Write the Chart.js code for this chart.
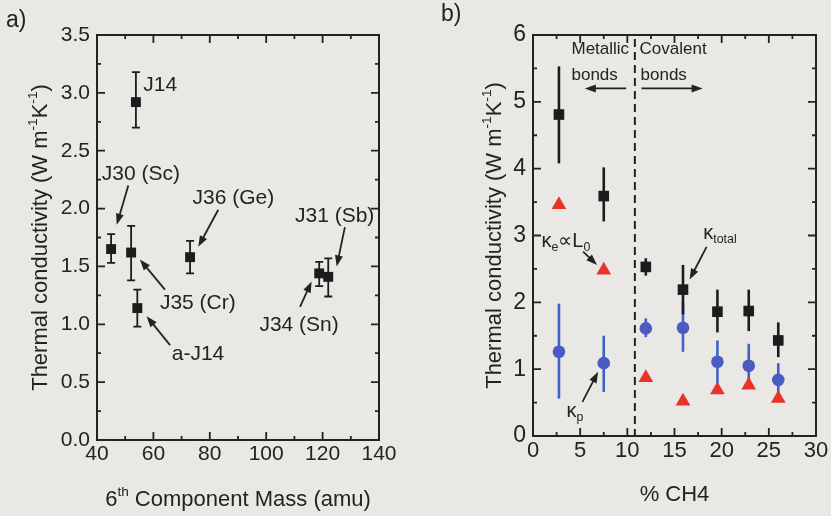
<!DOCTYPE html>
<html><head><meta charset="utf-8">
<script src="https://cdn.jsdelivr.net/npm/chart.js@4"></script>
<style>
html,body{margin:0;padding:0;background:#e9e8e4;}
#wrap{position:relative;width:831px;height:516px;overflow:hidden;background:#e9e8e4;}
canvas{position:absolute;top:0;}
</style></head><body>
<div id="wrap">
<canvas id="ca" width="415" height="516" style="left:0"></canvas>
<canvas id="cb" width="416" height="516" style="left:415px"></canvas>
</div>
<script>
// ---------- Panel a data ----------
const sampleA = ['J14', 'J30 (Sc)', 'J35 (Cr)', 'a-J14', 'J36 (Ge)', 'J34 (Sn)', 'J31 (Sb)'];
const massA   = [53.8, 45.0, 52.1, 54.3, 73.0, 118.8, 122.0];
const kA      = [2.92, 1.65, 1.62, 1.14, 1.58, 1.44, 1.41];
const kALow   = [2.70, 1.53, 1.38, 0.98, 1.44, 1.33, 1.24];
const kAHigh  = [3.18, 1.78, 1.85, 1.30, 1.72, 1.54, 1.57];
const xTicksA = [40, 60, 80, 100, 120, 140];
const yTicksA = [0, 0.5, 1, 1.5, 2, 2.5, 3, 3.5];

// ---------- Panel b data ----------
const ch4        = [2.75, 7.5, 11.96, 15.9, 19.55, 22.87, 26.0];
const kTotal     = [4.81, 3.59, 2.53, 2.19, 1.86, 1.87, 1.43];
const kTotalLow  = [4.08, 3.21, 2.40, 1.82, 1.55, 1.57, 1.18];
const kTotalHigh = [5.53, 4.02, 2.66, 2.56, 2.19, 2.19, 1.70];
const kP         = [1.26, 1.09, 1.61, 1.62, 1.11, 1.05, 0.84];
const kPLow      = [0.56, 0.66, 1.48, 1.26, 0.79, 0.79, 0.62];
const kPHigh     = [1.98, 1.50, 1.76, 2.01, 1.43, 1.38, 1.09];
const kE         = [3.46, 2.48, 0.87, 0.52, 0.69, 0.76, 0.56];
const boundaryCH4 = 10.8;
const xTicksB = [0, 5, 10, 15, 20, 25, 30];
const yTicksB = [0, 1, 2, 3, 4, 5, 6];

const FAM = '"Liberation Sans", Arial, Helvetica, sans-serif';
const INK = '#232323';

function richParts(ctx, runs, size) {
  return runs.map(([t, m]) => {
    const s = m ? size * 0.62 : size;
    const dy = m === 'sub' ? size * 0.30 : (m === 'sup' ? -size * 0.36 : 0);
    ctx.font = s + 'px ' + FAM;
    return { t, s, dy, w: ctx.measureText(t).width };
  });
}
function drawRich(ctx, runs, x, y, size, align, color) {
  const parts = richParts(ctx, runs, size);
  const total = parts.reduce((a, p) => a + p.w, 0);
  let cx = align === 'center' ? x - total / 2 : x;
  ctx.fillStyle = color || INK; ctx.textBaseline = 'middle'; ctx.textAlign = 'left';
  for (const p of parts) { ctx.font = p.s + 'px ' + FAM; ctx.fillText(p.t, cx, y + p.dy); cx += p.w; }
}
function drawArrow(ctx, x1, y1, x2, y2, color) {
  const a = Math.atan2(y2 - y1, x2 - x1), hl = 11, hw = 4;
  ctx.save();
  ctx.strokeStyle = color; ctx.fillStyle = color; ctx.lineWidth = 1.8;
  ctx.beginPath(); ctx.moveTo(x1, y1); ctx.lineTo(x2 - Math.cos(a) * hl * 0.7, y2 - Math.sin(a) * hl * 0.7); ctx.stroke();
  ctx.beginPath(); ctx.moveTo(x2, y2);
  ctx.lineTo(x2 - hl * Math.cos(a) + hw * Math.sin(a), y2 - hl * Math.sin(a) - hw * Math.cos(a));
  ctx.lineTo(x2 - hl * Math.cos(a) - hw * Math.sin(a), y2 - hl * Math.sin(a) + hw * Math.cos(a));
  ctx.closePath(); ctx.fill();
  ctx.restore();
}
function minors(arr) { const r = []; for (let i = 0; i < arr.length - 1; i++) r.push((arr[i] + arr[i + 1]) / 2); return r; }

const framePlugin = {
  id: 'frame',
  beforeDatasetsDraw(chart, args, opts) {
    const ctx = chart.ctx, xs = chart.scales.x, ys = chart.scales.y, ca = chart.chartArea;
    ctx.save();
    if (opts.dashX !== undefined) {
      const px = xs.getPixelForValue(opts.dashX);
      ctx.strokeStyle = INK; ctx.lineWidth = 2; ctx.setLineDash([8, 5]);
      ctx.beginPath(); ctx.moveTo(px, ca.top + 4); ctx.lineTo(px, ca.bottom); ctx.stroke();
      ctx.setLineDash([]);
    }
    for (const eb of opts.errorBars || []) {
      ctx.strokeStyle = eb.color; ctx.lineWidth = eb.width;
      eb.x.forEach((xv, i) => {
        const px = xs.getPixelForValue(xv), p1 = ys.getPixelForValue(eb.low[i]), p2 = ys.getPixelForValue(eb.high[i]);
        ctx.beginPath(); ctx.moveTo(px, p1); ctx.lineTo(px, p2);
        if (eb.cap) { ctx.moveTo(px - eb.cap, p1); ctx.lineTo(px + eb.cap, p1); ctx.moveTo(px - eb.cap, p2); ctx.lineTo(px + eb.cap, p2); }
        ctx.stroke();
      });
    }
    ctx.restore();
  },
  afterDraw(chart, args, opts) {
    const ctx = chart.ctx, xs = chart.scales.x, ys = chart.scales.y, ca = chart.chartArea;
    ctx.save();
    ctx.strokeStyle = INK; ctx.lineWidth = 2;
    ctx.strokeRect(ca.left, ca.top, ca.right - ca.left, ca.bottom - ca.top);
    ctx.lineWidth = 1.8;
    const tick = (vals, len, isX) => {
      for (const v of vals) {
        if (isX) {
          const p = xs.getPixelForValue(v);
          ctx.beginPath(); ctx.moveTo(p, ca.bottom); ctx.lineTo(p, ca.bottom - len);
          ctx.moveTo(p, ca.top); ctx.lineTo(p, ca.top + len); ctx.stroke();
        } else {
          const p = ys.getPixelForValue(v);
          ctx.beginPath(); ctx.moveTo(ca.left, p); ctx.lineTo(ca.left + len, p);
          ctx.moveTo(ca.right, p); ctx.lineTo(ca.right - len, p); ctx.stroke();
        }
      }
    };
    tick(opts.xTicks, 8, true); tick(minors(opts.xTicks), 4, true);
    tick(opts.yTicks, 8, false); tick(minors(opts.yTicks), 4, false);
    drawRich(ctx, opts.xTitle, (ca.left + ca.right) / 2, opts.xTitleY, opts.titleSize, 'center');
    ctx.save();
    ctx.translate(opts.yTitleX, (ca.top + ca.bottom) / 2);
    ctx.rotate(-Math.PI / 2);
    drawRich(ctx, opts.yTitle, 0, 0, opts.titleSize, 'center');
    ctx.restore();
    drawRich(ctx, [[opts.panel]], opts.panelX, opts.panelY, 23, 'left');
    for (const a of opts.labels || []) {
      drawRich(ctx, a.runs, xs.getPixelForValue(a.x), ys.getPixelForValue(a.y), a.size, 'left');
    }
    for (const r of opts.arrows || []) {
      drawArrow(ctx, xs.getPixelForValue(r[0]), ys.getPixelForValue(r[1]), xs.getPixelForValue(r[2]), ys.getPixelForValue(r[3]), INK);
    }
    ctx.restore();
  }
};

function baseScales(xMin, xMax, xTicks, yMin, yMax, yTicks, yW, xH, fmt, xSize, ySize) {
  return {
    x: { type: 'linear', min: xMin, max: xMax,
      afterBuildTicks: s => { s.ticks = xTicks.map(v => ({ value: v })); },
      afterFit: s => { s.height = xH; },
      grid: { display: false, drawTicks: false }, border: { display: false },
      ticks: { color: INK, font: { size: xSize, family: FAM }, padding: 2, maxRotation: 0, autoSkip: false } },
    y: { type: 'linear', min: yMin, max: yMax,
      afterBuildTicks: s => { s.ticks = yTicks.map(v => ({ value: v })); },
      afterFit: s => { s.width = yW; },
      grid: { display: false, drawTicks: false }, border: { display: false },
      ticks: { color: INK, font: { size: ySize, family: FAM }, padding: 7, callback: fmt, autoSkip: false } }
  };
}

// ---------- Chart a ----------
new Chart(document.getElementById('ca'), {
  type: 'scatter',
  data: { datasets: [{
    label: 'Thermal conductivity',
    data: massA.map((x, i) => ({ x, y: kA[i] })),
    pointStyle: 'rect', pointRadius: 7, backgroundColor: '#1c1c1c', borderColor: '#1c1c1c', borderWidth: 0
  }] },
  options: {
    responsive: false, animation: false, events: [],
    layout: { padding: { left: 0, right: 36, top: 35, bottom: 0 } },
    scales: baseScales(40, 140, xTicksA, 0, 3.5, yTicksA, 97, 76, v => Number(v).toFixed(1), 21, 21),
    plugins: {
      legend: { display: false }, tooltip: { enabled: false },
      frame: {
        xTicks: xTicksA, yTicks: yTicksA,
        errorBars: [{ x: massA, low: kALow, high: kAHigh, color: '#1c1c1c', width: 1.8, cap: 4 }],
        xTitle: [['6'], ['th', 'sup'], [' Component Mass (amu)']], xTitleY: 500, titleSize: 22,
        yTitle: [['Thermal conductivity (W m'], ['-1', 'sup'], ['K'], ['-1', 'sup'], [')']], yTitleX: 41,
        panel: 'a)', panelX: 6, panelY: 21,
        labels: [
          { runs: [[sampleA[0]]], x: 56.4, y: 3.07, size: 21 },
          { runs: [[sampleA[1]]], x: 41.7, y: 2.30, size: 21 },
          { runs: [[sampleA[2]]], x: 62.3, y: 1.18, size: 21 },
          { runs: [[sampleA[3]]], x: 66.5, y: 0.74, size: 21 },
          { runs: [[sampleA[4]]], x: 73.9, y: 2.09, size: 21 },
          { runs: [[sampleA[5]]], x: 97.6, y: 0.99, size: 21 },
          { runs: [[sampleA[6]]], x: 110.2, y: 1.93, size: 21 }
        ],
        arrows: [
          [51.1, 2.20, 47.0, 1.86],
          [64.1, 1.30, 55.2, 1.56],
          [65.9, 0.82, 57.6, 1.07],
          [83.0, 1.99, 75.9, 1.67],
          [112.0, 1.15, 116.1, 1.37],
          [127.9, 1.84, 125.0, 1.50]
        ]
      }
    }
  },
  plugins: [framePlugin]
});

// ---------- Chart b ----------
new Chart(document.getElementById('cb'), {
  type: 'scatter',
  data: { datasets: [
    { label: 'κtotal', data: ch4.map((x, i) => ({ x, y: kTotal[i] })), pointStyle: 'rect', pointRadius: 7.5,
      backgroundColor: '#1c1c1c', borderColor: '#1c1c1c', borderWidth: 0, order: 1 },
    { label: 'κp', data: ch4.map((x, i) => ({ x, y: kP[i] })), pointStyle: 'circle', pointRadius: 6.3,
      backgroundColor: '#4a5bc4', borderColor: '#4a5bc4', borderWidth: 0, order: 2 },
    { label: 'κe', data: ch4.map((x, i) => ({ x, y: kE[i] })), pointStyle: 'triangle', pointRadius: 8.5,
      backgroundColor: '#e8332b', borderColor: '#e8332b', borderWidth: 0, order: 3 }
  ] },
  options: {
    responsive: false, animation: false, events: [],
    layout: { padding: { left: 0, right: 15, top: 35, bottom: 0 } },
    scales: baseScales(0, 30, xTicksB, 0, 6, yTicksB, 118, 80, v => String(v), 22, 23),
    plugins: {
      legend: { display: false }, tooltip: { enabled: false },
      frame: {
        xTicks: xTicksB, yTicks: yTicksB, dashX: boundaryCH4,
        errorBars: [
          { x: ch4, low: kPLow, high: kPHigh, color: '#3f62c6', width: 2.6 },
          { x: ch4, low: kTotalLow, high: kTotalHigh, color: '#1c1c1c', width: 2.6 }
        ],
        xTitle: [['% CH4']], xTitleY: 495, titleSize: 22,
        yTitle: [['Thermal conductivity (W m'], ['-1', 'sup'], ['K'], ['-1', 'sup'], [')']], yTitleX: 80,
        panel: 'b)', panelX: 26, panelY: 15,
        labels: [
          { runs: [['Metallic']], x: 4.08, y: 5.78, size: 17 },
          { runs: [['Covalent']], x: 11.3, y: 5.78, size: 17 },
          { runs: [['bonds']], x: 4.08, y: 5.40, size: 17 },
          { runs: [['bonds']], x: 11.4, y: 5.40, size: 17 },
          { runs: [['κ'], ['e', 'sub'], ['∝L'], ['0', 'sub']], x: 0.89, y: 2.91, size: 20 },
          { runs: [['κ'], ['total', 'sub']], x: 18.05, y: 3.03, size: 20 },
          { runs: [['κ'], ['p', 'sub']], x: 3.55, y: 0.36, size: 20 }
        ],
        arrows: [
          [9.87, 5.20, 5.49, 5.20],
          [11.5, 5.20, 17.98, 5.20],
          [5.31, 2.76, 6.79, 2.56],
          [18.4, 2.83, 16.6, 2.34],
          [5.24, 0.51, 6.90, 0.96]
        ]
      }
    }
  },
  plugins: [framePlugin]
});
</script>
</body></html>
